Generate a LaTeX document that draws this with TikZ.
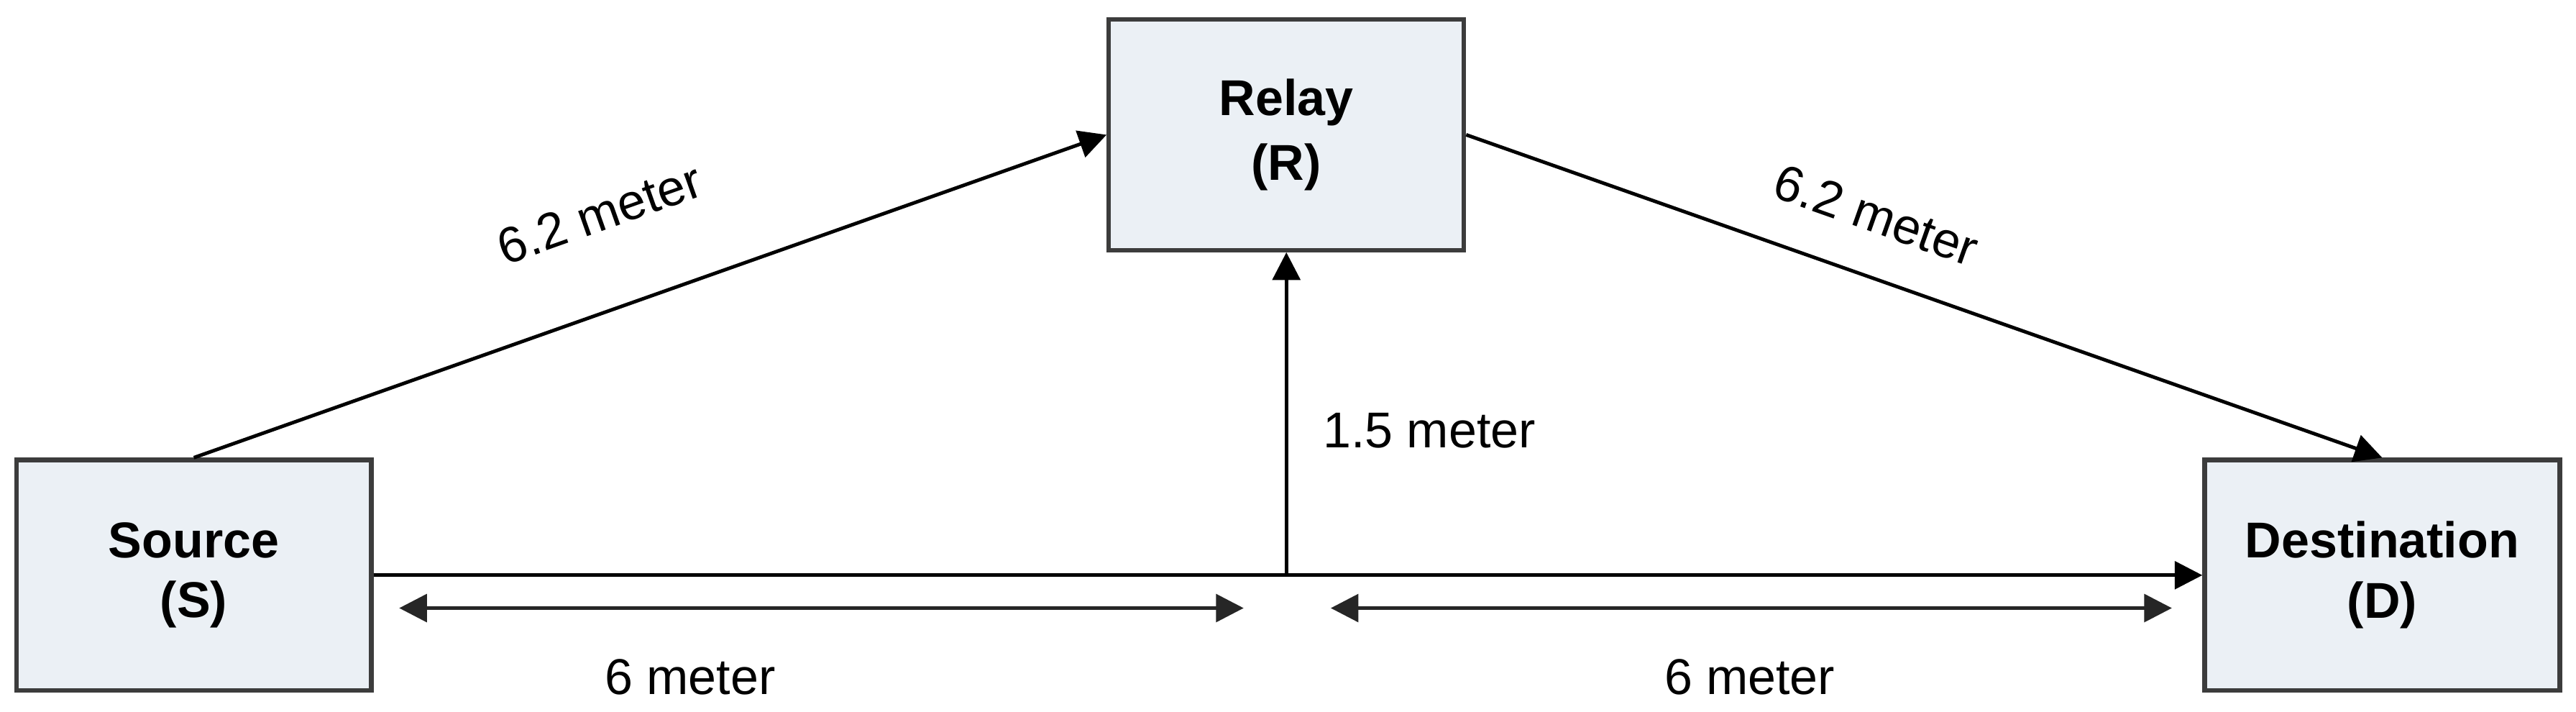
\documentclass[tikz,border=0pt]{standalone}
\usepackage{fontspec}
\setmainfont{Liberation Sans}
\usepackage{tikz}
\usetikzlibrary{arrows.meta,positioning}
\usepackage{xcolor}
\definecolor{nodefill}{RGB}{235,240,245}
\definecolor{nodeline}{RGB}{60,60,60}
\tikzstyle{arrow} = [line width=0.7pt,-{Triangle[length=5.5pt,width=5.5pt]},color=black]
\tikzstyle{dblarrow} = [line width=0.7pt,{Triangle[length=5.5pt,width=5.5pt]}-{Triangle[length=5.5pt,width=5.5pt]},color=black!85]
\tikzstyle{terminal} = [rectangle, minimum width=2.48cm, minimum height=1.61cm, text centered, align=center, draw=nodeline, fill=nodefill, line width=0.9pt, font=\bfseries]
\tikzstyle{dist} = [font=\normalsize, inner sep=1pt]

\begin{document}
\begin{tikzpicture}[x=0.01148cm, y=-0.01148cm]
    \useasboundingbox (0,0) rectangle (1568,433);

    % Terminals
    \node[terminal] (src) at (118, 350) {Source\\[0pt](S)};
    \node[terminal] (rly) at (783, 82) {Relay\\[1pt](R)};
    \node[terminal] (dst) at (1450, 350) {Destination\\[0pt](D)};

    % Links
    \coordinate (junc) at (783, 350);
    \draw[arrow] (src.north) -- (rly.west);
    \draw[arrow] (rly.east) -- (dst.north);
    \draw[arrow] (src.east) -- (dst.west);
    \draw[arrow] (junc) -- (rly.south);

    % Distances
    \coordinate (d1a) at (243, 370);
    \coordinate (d1b) at (757, 370);
    \coordinate (d2a) at (810, 370);
    \coordinate (d2b) at (1322, 370);
    \draw[dblarrow] (d1a) -- (d1b);
    \draw[dblarrow] (d2a) -- (d2b);

    \node[dist, rotate=19.5] (l1) at (365, 130) {6.2 meter};
    \node[dist, rotate=-19.5] (l2) at (1142, 131) {6.2 meter};
    \node[dist] (l3) at (870, 262) {1.5 meter};
    \node[dist] (l4) at (420, 412) {6 meter};
    \node[dist] (l5) at (1065, 412) {6 meter};
\end{tikzpicture}
\end{document}
